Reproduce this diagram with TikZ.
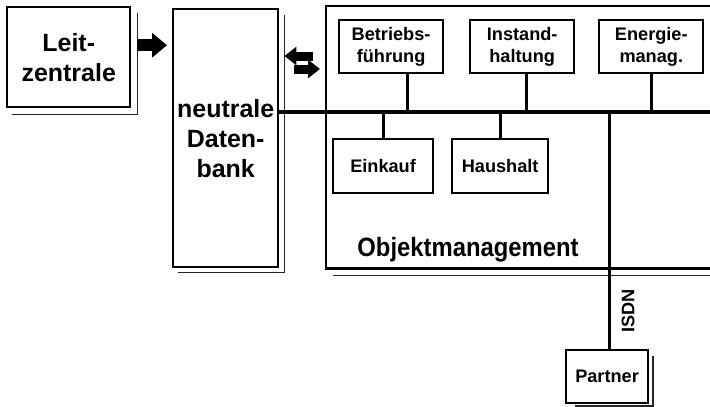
\documentclass[tikz,border=0pt]{standalone}
\usepackage{fontspec}
\setmainfont{Liberation Sans}
\newfontfamily\narrowfont[FakeStretch=0.9]{Liberation Sans}
\usetikzlibrary{positioning,arrows.meta}
\tikzset{
  box/.style={draw, line width=1.8pt, fill=white, align=center, inner sep=1pt, font=\bfseries\fontsize{15.5}{18.5}\selectfont},
  bigbox/.style={box, line width=2.1pt, font=\bfseries\fontsize{21.3}{25.5}\selectfont},
  shade/.style={line width=1.1pt, black!85},
  bus/.style={line width=3.2pt},
  link/.style={line width=2.6pt},
  fat/.style={line width=0.36cm, -{Triangle[length=0.45cm, width=0.72cm]}},
  pair/.style={line width=0.27cm, -{Triangle[length=0.36cm, width=0.54cm]}},
  lbl/.style={font=\bfseries\fontsize{15.5}{18.5}\selectfont, inner sep=1pt}
}
\begin{document}
\begin{tikzpicture}[x=0.03cm, y=-0.03cm]
  \useasboundingbox (0,0) rectangle (710,406);

  % ---- left column ----
  \node[bigbox, minimum width=3.69cm, minimum height=3.0cm, anchor=north west] (leit) at (6,6) {Leit-\\zentrale};
  \node[bigbox, minimum width=3.15cm, minimum height=7.74cm, anchor=north west] (db) at (172,8) {neutrale\\Daten-\\bank};
  \draw[shade] ([xshift=.18cm, yshift=-.2cm]leit.north east) |- ([xshift=.18cm, yshift=-.18cm]leit.south west);
  \draw[shade] ([xshift=.15cm, yshift=-.2cm]db.north east) |- ([xshift=.18cm, yshift=-.12cm]db.south west);

  % ---- Objektmanagement frame (open to the right) ----
  \node[minimum width=11.82cm, minimum height=7.86cm, anchor=north west, inner sep=0pt] (om) at (326,6) {};
  \draw[line width=2pt] (om.north east) -- (om.north west) -- (om.south west) -- (om.south east);
  \draw[shade] ([xshift=.21cm, yshift=-.21cm]om.south west) -- ([yshift=-.21cm]om.south east);
  \node[font=\narrowfont\bfseries\fontsize{22.6}{26}\selectfont, inner sep=0pt] (omlabel) at (468,250) {Objektmanagement};

  % ---- units ----
  \node[box, minimum width=3.12cm, minimum height=1.59cm, anchor=north west] (betrieb) at (338,19) {Betriebs-\\führung};
  \node[box, minimum width=3.12cm, minimum height=1.59cm, right=0.75cm of betrieb] (instand) {Instand-\\haltung};
  \node[box, minimum width=3.12cm, minimum height=1.59cm, right=0.69cm of instand] (energie) {Energie-\\manag.};
  \node[box, minimum width=3.0cm, minimum height=1.62cm, anchor=north west] (einkauf) at (332,138) {Einkauf};
  \node[box, minimum width=2.88cm, minimum height=1.62cm, right=0.51cm of einkauf] (haushalt) {Haushalt};
  \node[box, minimum width=2.46cm, minimum height=1.59cm, anchor=north west] (partner) at (565,349) {Partner};
  \draw[shade] ([xshift=.12cm, yshift=-.2cm]partner.north east) |- ([xshift=.3cm, yshift=-.06cm]partner.south west);

  % ---- bus ----
  \coordinate (bw) at (db.east |- 0,112);
  \coordinate (be) at (712,112);
  \draw[bus] (bw) -- (be);
  \draw[link] ([xshift=.48cm]betrieb.south) -- ([xshift=.48cm]betrieb.south |- bw);
  \draw[link] ([xshift=.13cm]instand.south) -- ([xshift=.13cm]instand.south |- bw);
  \draw[link] (energie.south) -- (energie.south |- bw);
  \draw[link] (einkauf.north) -- (einkauf.north |- bw);
  \draw[link] (haushalt.north) -- (haushalt.north |- bw);
  \draw[link] ([xshift=.06cm]partner.north) -- node[pos=.16, rotate=90, anchor=north, lbl, yshift=-.3cm] (isdn) {ISDN} ([xshift=.06cm]partner.north |- bw);

  % ---- arrows ----
  \draw[fat] ([xshift=.18cm, yshift=.36cm]leit.east) -- ([xshift=-.15cm, yshift=.36cm]leit.east -| db.west);
  \draw[pair] ([xshift=-.39cm]om.west |- 0,56) -- ([xshift=.15cm]db.east |- 0,56);
  \draw[pair] ([xshift=.45cm]db.east |- 0,69) -- ([xshift=-.18cm]om.west |- 0,69);
\end{tikzpicture}
\end{document}
